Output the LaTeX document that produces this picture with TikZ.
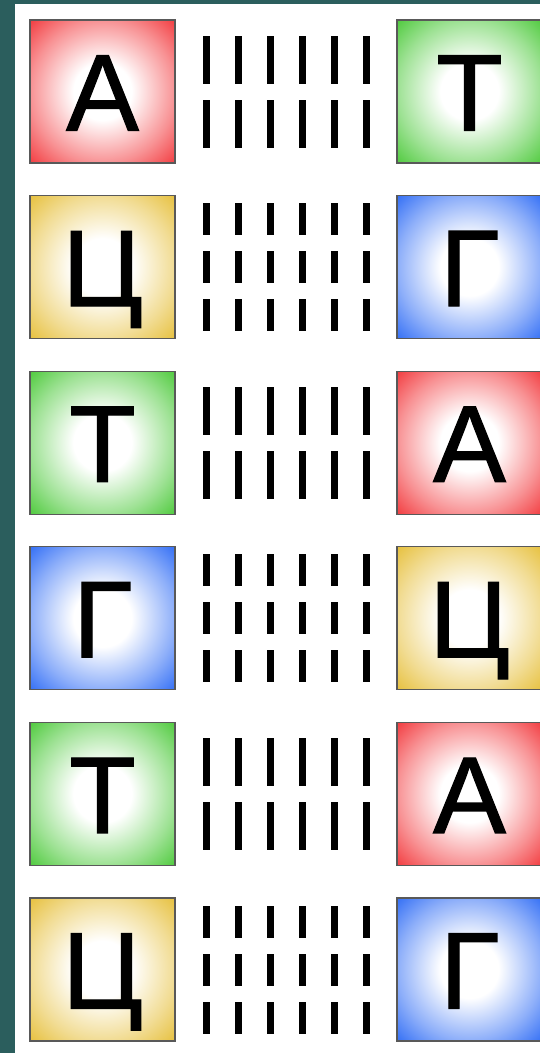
\documentclass[tikz,border=0pt]{standalone}
\usepackage{fontspec}
\setmainfont{Liberation Sans}
\newfontfamily\tilefont{Liberation Sans}[FakeBold=1.1]

\definecolor{slidebg}{HTML}{2B5E5D}
\definecolor{adenine}{HTML}{F2383C}
\definecolor{thymine}{HTML}{4CC93A}
\definecolor{cytosine}{HTML}{E6BF3A}
\definecolor{guanine}{HTML}{2F6CF5}
\colorlet{tilecol}{adenine}

\pgfdeclareradialshading[tilecol]{tileglow}{\pgfpointorigin}{%
  color(0bp)=(white); color(10bp)=(white); color(25bp)=(tilecol!55!white);
  color(36bp)=(tilecol); color(50bp)=(tilecol)}

\tikzset{
  tilecol/.code={\colorlet{tilecol}{#1}},
  tile/.style={draw=black!65, line width=1.2pt, shading=tileglow,
    minimum width=145pt, minimum height=143pt, inner sep=0pt,
    text height=78pt, text depth=0pt,
    font=\tilefont\fontsize{109}{109}\selectfont},
  bond/.style={fill=black}
}

\begin{document}
\begin{tikzpicture}[x=1pt,y=-1pt]
  \fill[slidebg] (0,0) rectangle (540,1053);
  \fill[white] (15,4) rectangle (540,1053);
  \clip (0,0) rectangle (540,1053);
  % base pairs: left letter, colour, right letter, colour, bonds
  \foreach \i/\lt/\lc/\rt/\rc/\n in {0/А/adenine/Т/thymine/2,
      1/Ц/cytosine/Г/guanine/3, 2/Т/thymine/А/adenine/2,
      3/Г/guanine/Ц/cytosine/3, 4/Т/thymine/А/adenine/2,
      5/Ц/cytosine/Г/guanine/3} {
    \pgfmathsetmacro\cy{91.5+175.6*\i}
    \node[tile, tilecol=\lc] (left\i) at (102.5,\cy) {\lt};
    \node[tile, tilecol=\rc] (right\i) at (469.5,\cy) {\rt};
    % hydrogen bonds
    \pgfmathsetmacro\len{96/\n}
    \pgfmathsetmacro\start{\cy-48-8*(\n-1)}
    \foreach \j in {1,...,\n}
      \foreach \k in {0,...,5}
        \fill[bond] (203+32*\k,\start+\len*\j-\len+16*\j-16) rectangle +(7,\len);
  }
\end{tikzpicture}
\end{document}
